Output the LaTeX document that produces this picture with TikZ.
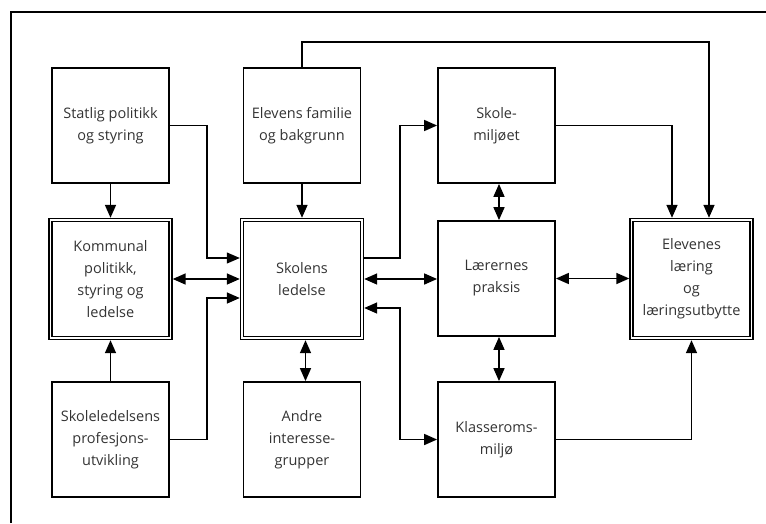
\documentclass[tikz,border=0pt]{standalone}
\usepackage{fontspec}
\setmainfont{Open Sans}
\usetikzlibrary{arrows.meta, positioning}

\begin{document}
\begin{tikzpicture}[x=1pt, y=-1pt, >={Triangle[length=13pt,width=11pt]},
  box/.style={draw, line width=1.8pt, minimum width=117pt, minimum height=115pt,
    align=center, inner sep=0pt, text=black!80, font=\fontsize{14.5}{22}\selectfont},
  dbox/.style={box, double, double distance=1.5pt, line width=1.5pt,
    minimum width=120pt, minimum height=118pt, outer sep=2.2pt},
  link/.style={line width=1.6pt}]
\useasboundingbox (0,0) rectangle (766,523);
\draw[line width=1.8pt] (11,523) |- (766,12);

% first row
\node[box] (stat) at (110.5,125.5) {Statlig politikk\\og styring};
\node[box] (fam) at (302,125.5) {Elevens familie\\og bakgrunn};
\node[box] (miljo) at (496.5,125.5) {Skole-\\miljøet};
% second row
\node[dbox] (komm) at (110.5,279) {Kommunal\\politikk,\\styring og\\ledelse};
\node[dbox] (led) at (302,279) {Skolens\\ledelse};
\node[box] (prak) at (496.5,278.5) {Lærernes\\praksis};
\node[dbox] (elev) at (691.5,279) {Elevenes\\læring\\og\\læringsutbytte};
% third row
\node[box] (prof) at (110.5,439.5) {Skoleledelsens\\profesjons-\\utvikling};
\node[box] (andre) at (302,439.5) {Andre\\interesse-\\grupper};
\node[box] (klasse) at (496.5,439.5) {Klasseroms-\\miljø};

% arrows
\draw[link,->] (stat) -- (komm);
\draw[link,->] (fam) -- (led);
\draw[link,->] (prof) -- (komm);
\draw[link,<->] (komm.east |- led.west) -- (led.west);
\draw[link,<->] (led.east) -- (prak.west |- led.east);
\draw[link,<->] (prak.east) -- (elev.west |- prak.east);
\draw[link,<->] ([xshift=3.5pt]led.south) -- ([xshift=3.5pt]andre.north);
\draw[link,<->] ([xshift=2.5pt]miljo.south) -- ([xshift=2.5pt]prak.north);
\draw[link,<->] ([xshift=2.5pt]prak.south) -- ([xshift=2.5pt]klasse.north);
\draw[line width=1.1pt,->] (stat.east) -| (207,258) -- ([yshift=21pt]led.west);
\draw[link,->] (prof.east) -| (207,298) -- ([yshift=-19pt]led.west);
\draw[link,->] ([yshift=21pt]led.east) -| (400,125.5) -- (miljo.west);
\draw[link,<->] ([yshift=-29pt]led.east) -| (400,439.5) -- (klasse.west);
\draw[link,->] (fam.north) |- (709,42) -- ([xshift=17.5pt]elev.north);
\draw[link,->] (miljo.east) -| ([xshift=-19.5pt]elev.north);
\draw[link,->] (klasse.east) -| (elev.south);
\end{tikzpicture}
\end{document}
